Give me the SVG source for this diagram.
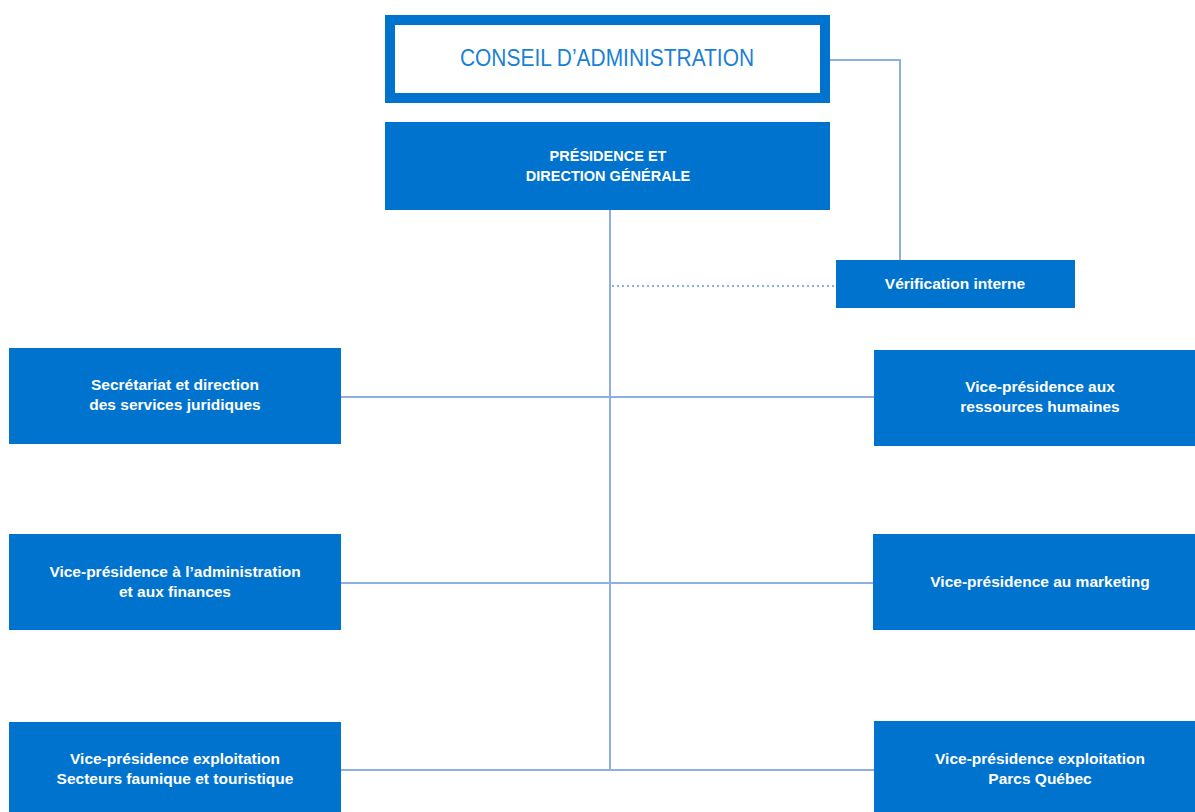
<svg xmlns="http://www.w3.org/2000/svg" width="1195" height="812" viewBox="0 0 1195 812">
<style>
.box{fill:#0073CF}
.lbl{fill:#ffffff;font-family:"Liberation Sans",Arial,sans-serif;font-size:15.5px;font-weight:bold;text-anchor:middle}
.cap{font-size:14.5px}
.ln{stroke:#8DB0E0;stroke-width:2;fill:none}
.dot{stroke:#8DB0E0;stroke-width:2;fill:none;stroke-dasharray:2 3}
</style>
<rect width="1195" height="812" fill="#ffffff"/>
<g id="connectors">
<path class="ln" d="M830 60 H900 V260"/>
<path class="ln" d="M610 210 V770"/>
<path class="dot" d="M612 286 H836"/>
<path class="ln" d="M341 397 H874"/>
<path class="ln" d="M341 583 H873"/>
<path class="ln" d="M341 770 H874"/>
</g>
<g id="conseil">
<rect x="390" y="20" width="435" height="78" fill="#ffffff" stroke="#0073CF" stroke-width="10"/>
<text x="607" y="66" font-family="Liberation Sans,Arial,sans-serif" font-size="24" fill="#1A7FD6" text-anchor="middle" textLength="294" lengthAdjust="spacingAndGlyphs">CONSEIL D’ADMINISTRATION</text>
</g>
<g id="presidence">
<rect class="box" x="385" y="122" width="445" height="88"/>
<text class="lbl cap" x="608" y="161">PRÉSIDENCE ET</text>
<text class="lbl cap" x="608" y="181">DIRECTION GÉNÉRALE</text>
</g>
<g id="verification">
<rect class="box" x="836" y="260" width="239" height="48"/>
<text class="lbl" x="955" y="289">Vérification interne</text>
</g>
<g id="secretariat">
<rect class="box" x="9" y="348" width="332" height="96"/>
<text class="lbl" x="175" y="390">Secrétariat et direction</text>
<text class="lbl" x="175" y="410">des services juridiques</text>
</g>
<g id="rh">
<rect class="box" x="874" y="350" width="321" height="96"/>
<text class="lbl" x="1040" y="392">Vice-présidence aux</text>
<text class="lbl" x="1040" y="412">ressources humaines</text>
</g>
<g id="admin">
<rect class="box" x="9" y="534" width="332" height="96"/>
<text class="lbl" x="175" y="577">Vice-présidence à l’administration</text>
<text class="lbl" x="175" y="597">et aux finances</text>
</g>
<g id="marketing">
<rect class="box" x="873" y="534" width="322" height="96"/>
<text class="lbl" x="1040" y="587">Vice-présidence au marketing</text>
</g>
<g id="faunique">
<rect class="box" x="9" y="722" width="332" height="90"/>
<text class="lbl" x="175" y="764">Vice-présidence exploitation</text>
<text class="lbl" x="175" y="784">Secteurs faunique et touristique</text>
</g>
<g id="parcs">
<rect class="box" x="874" y="721" width="321" height="91"/>
<text class="lbl" x="1040" y="764">Vice-présidence exploitation</text>
<text class="lbl" x="1040" y="784">Parcs Québec</text>
</g>
</svg>
